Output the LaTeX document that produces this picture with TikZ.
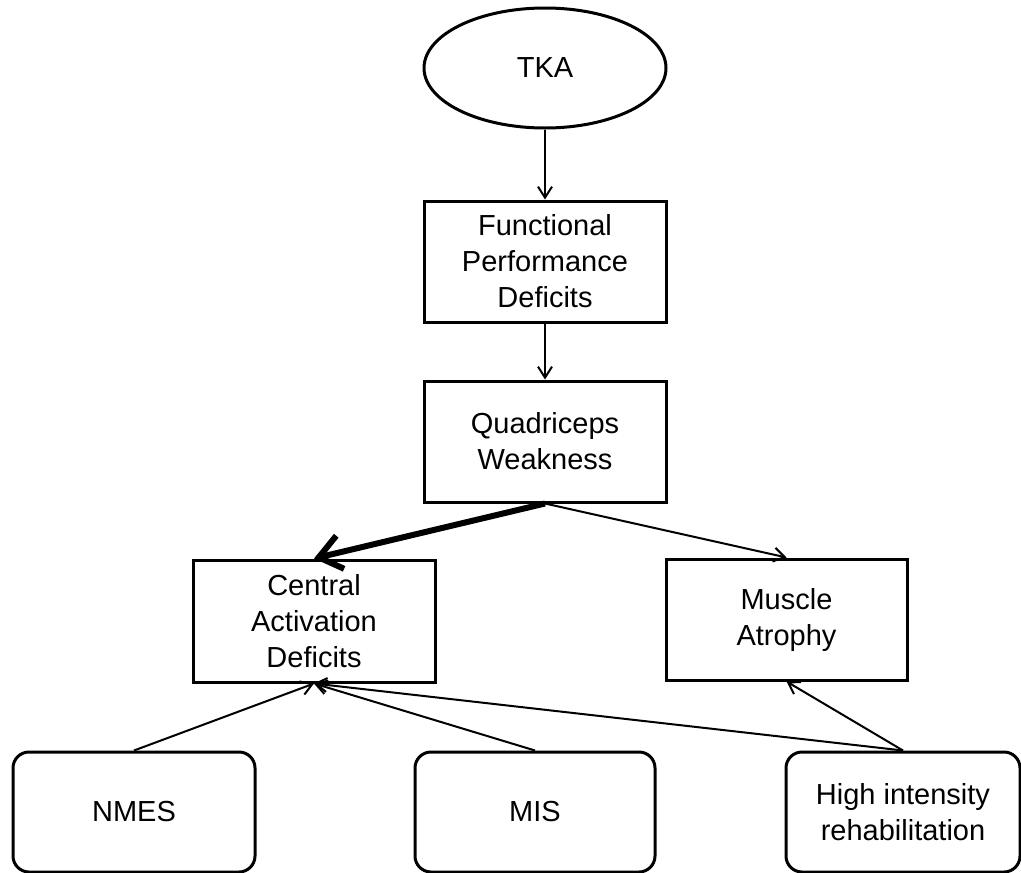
\documentclass[tikz,border=0pt]{standalone}
\usepackage{fontspec}
\setmainfont{Liberation Sans}
\usetikzlibrary{shapes.geometric,arrows.meta}
\begin{document}
\begin{tikzpicture}[x=1pt,y=-1pt,
  every node/.style={font=\fontsize{29pt}{36pt}\selectfont, align=center, inner sep=0pt},
  boxnode/.style={draw, line width=3pt, rectangle, minimum width=242pt, minimum height=121pt},
  roundnode/.style={draw, line width=3pt, rectangle, rounded corners=16pt, minimum height=120pt},
  ellnode/.style={draw, line width=3pt, ellipse, minimum width=242pt, minimum height=120pt},
  thinarrow/.style={line width=2pt, -{Straight Barb[length=11pt,width=14pt]}},
  thickarrow/.style={line width=6pt, -{Straight Barb[length=22pt,width=34pt]}}
]
\useasboundingbox (0,0) rectangle (1021,873);
\node[ellnode] (tka) at (545,68) {TKA};
\node[boxnode] (func) at (545,261.5) {Functional\\Performance\\Deficits};
\node[boxnode] (quad) at (545,441.5) {Quadriceps\\Weakness};
\node[boxnode, minimum height=122pt] (central) at (314,621) {Central\\Activation\\Deficits};
\node[boxnode, minimum width=241pt] (muscle) at (786.5,619.5) {Muscle\\Atrophy};
\node[roundnode, minimum width=242pt] (nmes) at (134,812) {NMES};
\node[roundnode, minimum width=240pt] (mis) at (535,812) {MIS};
\node[roundnode, minimum width=234pt] (high) at (903,812) {High intensity\\rehabilitation};
\draw[thinarrow] (tka) -- (func);
\draw[thinarrow] (func) -- (quad);
\draw[thickarrow] (quad.south) -- (central.north);
\draw[thinarrow] (quad.south) -- (muscle.north);
\draw[thinarrow] (nmes.north) -- (central.south);
\draw[thinarrow] (mis.north) -- (central.south);
\draw[thinarrow] (high.north) -- (central.south);
\draw[thinarrow] (high.north) -- (muscle.south);
\end{tikzpicture}
\end{document}
